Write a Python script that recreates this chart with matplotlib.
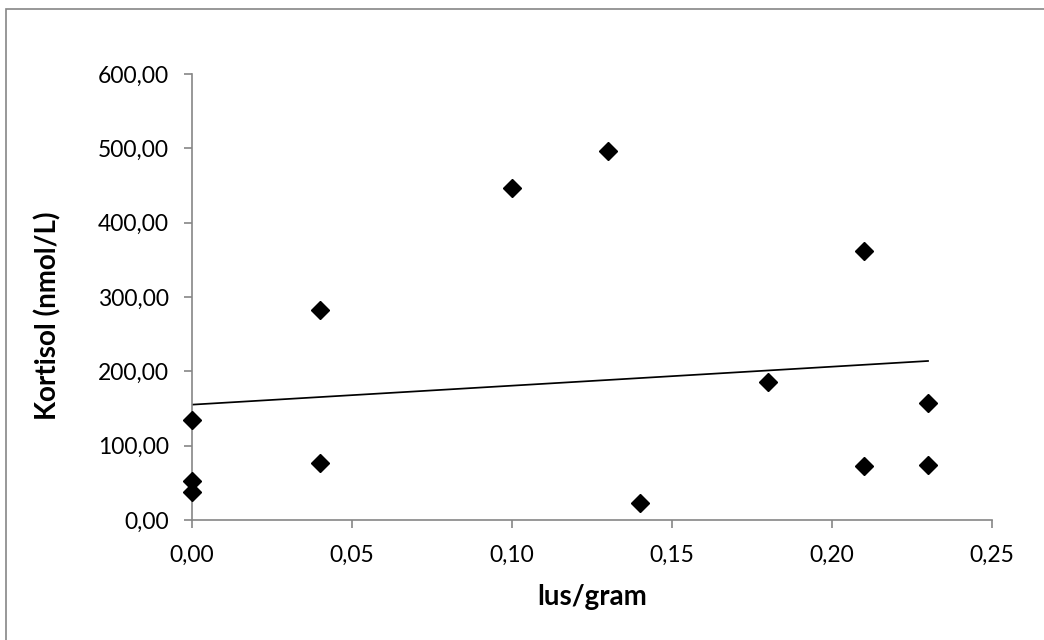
import numpy as np
import matplotlib
matplotlib.use("Agg")
import matplotlib.pyplot as plt
from matplotlib.ticker import FuncFormatter, MultipleLocator
from matplotlib.patches import Rectangle

# data (lus/gram vs kortisol)
lus_per_gram = [0.00, 0.00, 0.00, 0.04, 0.04, 0.10, 0.13, 0.14, 0.18, 0.21, 0.21, 0.23, 0.23]
kortisol = [135, 52, 38, 283, 77, 446, 497, 23, 185, 362, 73, 158, 74]

x_label = "lus/gram"
y_label = "Kortisol (nmol/L)"

plt.rcParams['font.family'] = ['Lato', 'DejaVu Sans']

fig = plt.figure(figsize=(10.44, 6.4), dpi=100)
ax = fig.add_axes([192/1044, 120/640, 800/1044, 446/640])

x = np.array(lus_per_gram)
y = np.array(kortisol)

ax.plot(x, y, linestyle='none', marker='D', markersize=9.5, color='black', clip_on=False, zorder=3)

# lineaire trendlijn zoals in Excel
slope, intercept = np.polyfit(x, y, 1)
xt = np.array([x.min(), x.max()])
ax.plot(xt, slope * xt + intercept, color='black', linewidth=1.25, zorder=2)

ax.set_xlim(0, 0.25)
ax.set_ylim(0, 600)
ax.xaxis.set_major_locator(MultipleLocator(0.05))
ax.yaxis.set_major_locator(MultipleLocator(100))
komma = FuncFormatter(lambda v, p: f"{v:.2f}".replace('.', ','))
ax.xaxis.set_major_formatter(komma)
ax.yaxis.set_major_formatter(komma)

for side in ['top', 'right']:
    ax.spines[side].set_visible(False)
for side in ['left', 'bottom']:
    ax.spines[side].set_color('#868686')
    ax.spines[side].set_linewidth(1.2)

ax.tick_params(axis='both', direction='out', length=5.8, width=1.2, color='#868686',
               labelsize=16.5, labelcolor='black')
ax.tick_params(axis='y', pad=11)
ax.tick_params(axis='x', pad=12)

ax.set_xlabel(x_label, fontsize=20, fontweight='bold', va='center')
ax.set_ylabel(y_label, fontsize=20, fontweight='bold', va='center')
ax.xaxis.set_label_coords(0.5, (520 - 597) / 446)
ax.yaxis.set_label_coords((48 - 192) / 800, (520 - 316) / 446)

# kader rond de grafiek
fig.patches.append(Rectangle((6/1044, -0.1), 1.2, 1 - 8.5/640 + 0.1, transform=fig.transFigure,
                             fill=False, edgecolor='#868686', linewidth=1.2))

fig.savefig('out.png', dpi=100)
